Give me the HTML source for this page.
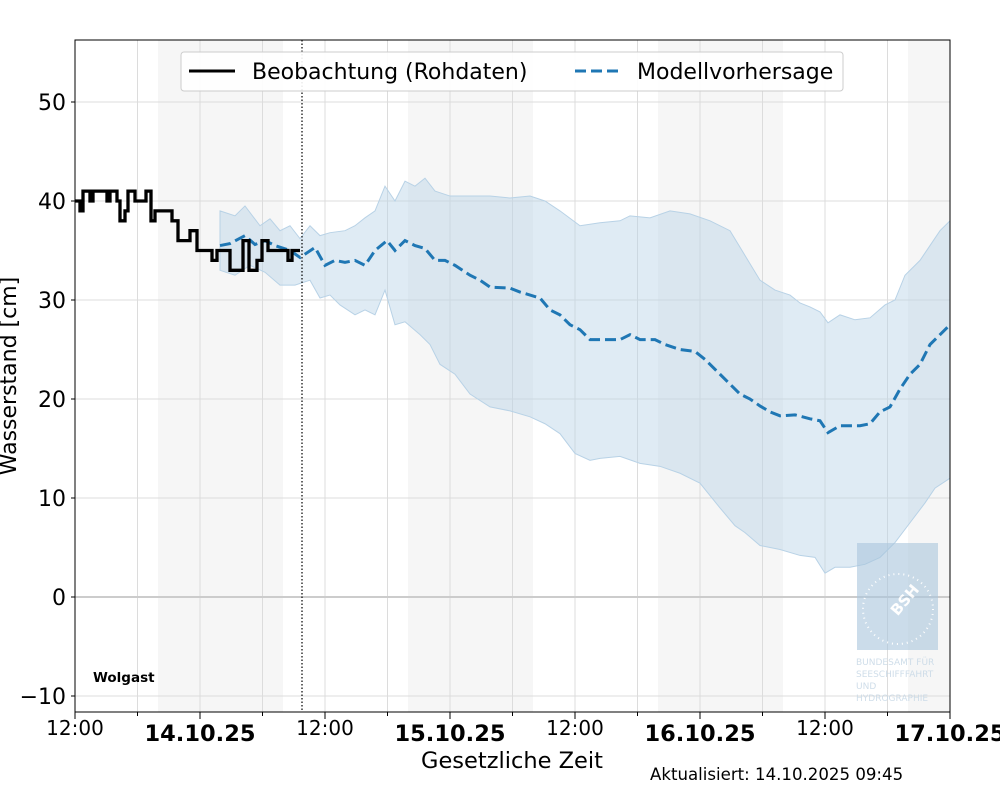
<!DOCTYPE html>
<html><head><meta charset="utf-8"><style>body{margin:0;background:#fff}svg{display:block;font-family:"DejaVu Sans","Liberation Sans",sans-serif}</style></head>
<body>
<svg id="s" width="1000" height="800" xmlns="http://www.w3.org/2000/svg">
<rect width="1000" height="800" fill="#fff"/>
<g fill="#f6f6f6"><rect x="158" y="40" width="125" height="672"/><rect x="408" y="40" width="125" height="672"/><rect x="658" y="40" width="125" height="672"/><rect x="908" y="40" width="42" height="672"/></g>
<g id="grid" stroke="#dcdcdc" stroke-width="1"></g>
<line x1="75" x2="950" y1="597" y2="597" stroke="#ccc" stroke-width="2"/>
<path id="band" fill="#b8d2e6" fill-opacity="0.45" stroke="#b8d2e6" stroke-width="1"/>
<g opacity="0.85"><rect x="857" y="543" width="81" height="107" fill="#a9c6dd" opacity="0.7"/>
<circle cx="898" cy="609" r="35" fill="none" stroke="#fff" stroke-width="2" stroke-dasharray="1 4"/>
<text x="905" y="605" fill="#fff" font-size="15" font-weight="bold" transform="rotate(-50 905 600)" text-anchor="middle">BSH</text>
<g fill="#c7d8e6" font-size="9"><text x="856" y="665">BUNDESAMT FÜR</text><text x="856" y="677">SEESCHIFFFAHRT</text><text x="856" y="689">UND</text><text x="856" y="701">HYDROGRAPHIE</text></g></g>
<path id="fc" fill="none" stroke="#1f77b4" stroke-width="3" stroke-dasharray="11 5"/>
<path id="obs" fill="none" stroke="#000" stroke-width="3.3"/>
<line x1="302" x2="302" y1="40" y2="712" stroke="#000" stroke-width="1.2" stroke-dasharray="1.5 2"/>
<rect x="75" y="40" width="875" height="672" fill="none" stroke="#000" stroke-width="1"/>
<g id="ticks" stroke="#000"></g>
<g font-size="22" fill="#000" text-anchor="end">
<text x="66" y="110">50</text><text x="66" y="209">40</text><text x="66" y="308">30</text><text x="66" y="407">20</text><text x="66" y="506">10</text><text x="66" y="605">0</text><text x="66" y="704">−10</text></g>
<g font-size="20" text-anchor="middle"><text x="75" y="735">12:00</text><text x="325" y="735">12:00</text><text x="575" y="735">12:00</text><text x="825" y="735">12:00</text></g>
<g font-size="22.5" font-weight="bold" text-anchor="middle"><text x="200" y="741">14.10.25</text><text x="450" y="741">15.10.25</text><text x="700" y="741">16.10.25</text><text x="950" y="741">17.10.25</text></g>
<text x="512" y="768" font-size="22.5" text-anchor="middle">Gesetzliche Zeit</text>
<text x="16" y="376" font-size="22" text-anchor="middle" transform="rotate(-90 16 376)">Wasserstand [cm]</text>
<text x="650" y="780" font-size="16.6">Aktualisiert: 14.10.2025 09:45</text>
<text x="93" y="682" font-size="13.5" font-weight="bold">Wolgast</text>
<rect x="181" y="52" width="662" height="39" rx="3" fill="#fff" fill-opacity="0.9" stroke="#ccc"/>
<line x1="189" x2="235" y1="71" y2="71" stroke="#000" stroke-width="3"/>
<text x="252" y="79" font-size="22">Beobachtung (Rohdaten)</text>
<line x1="575" x2="621" y1="71" y2="71" stroke="#1f77b4" stroke-width="3" stroke-dasharray="11 5"/>
<text x="637" y="79" font-size="22">Modellvorhersage</text>
</svg>
<script>
const Y=v=>597-9.9*v;
let g='';for(let x=75+62.5;x<950;x+=62.5)g+=`<line x1="${x}" x2="${x}" y1="40" y2="712"/>`;
for(let v=-10;v<=50;v+=10)if(v)g+=`<line x1="75" x2="950" y1="${Y(v)}" y2="${Y(v)}"/>`;
document.getElementById('grid').innerHTML=g;
let t='';for(let x=75;x<=950;x+=62.5)t+=`<line x1="${x}" x2="${x}" y1="712" y2="${(x-75)%125?716:719}"/>`;
for(let v=-10;v<=50;v+=10)t+=`<line x1="71" x2="75" y1="${Y(v)}" y2="${Y(v)}"/>`;
document.getElementById('ticks').innerHTML=t;
const up=[[220,39],[235,38.5],[245,39.5],[260,37.5],[270,38.2],[280,37],[290,37.5],[300,36.2],[310,37.5],[320,36.5],[330,36.8],[345,37],[355,37.5],[365,38.3],[375,39],[385,41.5],[395,40],[405,42],[415,41.5],[425,42.3],[435,41],[450,40.5],[470,40.5],[490,40.5],[510,40.3],[530,40.5],[545,40],[560,39],[580,37.5],[600,37.8],[620,38],[630,38.5],[650,38.3],[670,39],[690,38.7],[710,38],[730,37],[745,34.5],[760,32],[775,31],[790,30.5],[800,29.7],[810,29.3],[820,28.8],[828,27.7],[840,28.5],[855,28],[870,28.2],[885,29.5],[895,30],[905,32.5],[920,34],[930,35.5],[940,37],[950,38]];
const lo=[[220,33],[235,32.5],[250,33.5],[265,32.8],[280,31.5],[295,31.5],[310,32],[320,30.2],[330,30.5],[340,29.5],[355,28.5],[365,29],[375,28.5],[385,31],[395,27.5],[405,27.8],[420,26.5],[430,25.5],[440,23.5],[455,22.5],[470,20.5],[490,19.2],[510,18.8],[530,18.2],[545,17.5],[560,16.5],[575,14.5],[590,13.8],[600,14],[620,14.2],[640,13.5],[660,13.2],[680,12.5],[700,11.5],[720,9],[735,7.2],[745,6.5],[760,5.2],[780,4.8],[800,4.2],[815,4],[825,2.4],[835,3],[850,3],[865,3.3],[880,4],[895,5.5],[910,7.5],[925,9.5],[935,11],[950,12]];
document.getElementById('band').setAttribute('d','M'+up.map(p=>p[0]+' '+Y(p[1])).join('L')+'L'+lo.slice().reverse().map(p=>p[0]+' '+Y(p[1])).join('L')+'Z');
const fc=[[220,35.5],[230,35.7],[245,36.5],[255,35.6],[265,36],[275,35.5],[290,35],[300,34.3],[315,35.3],[325,33.5],[335,34],[345,33.8],[355,34],[365,33.5],[375,35],[387,36],[395,35],[405,36],[415,35.5],[425,35.2],[435,34],[445,34],[455,33.5],[470,32.5],[480,32],[490,31.3],[510,31.2],[520,30.8],[540,30.2],[550,29],[560,28.5],[570,27.5],[580,27],[590,26],[600,26],[620,26],[630,26.5],[640,26],[655,26],[665,25.5],[680,25],[695,24.8],[705,24],[720,22.5],[730,21.5],[740,20.5],[750,20],[760,19.3],[770,18.7],[780,18.3],[795,18.4],[810,18],[820,17.8],[828,16.6],[840,17.3],[860,17.3],[870,17.5],[880,18.7],[890,19.2],[900,21],[910,22.5],[920,23.5],[930,25.5],[940,26.5],[950,27.5]];
document.getElementById('fc').setAttribute('d','M'+fc.map(p=>p[0]+' '+Y(p[1])).join('L'));
const ob=[[75,40],[80,39],[83,41],[90,40],[93,41],[107,40],[110,41],[117,40],[120,38],[125,39],[128,41],[135,40],[146,41],[151,38],[155,39],[172,38],[178,36],[190,37],[197,35],[212,34],[217,35],[230,33],[243,36],[249,33],[257,34],[262,36],[268,35],[288,34],[292,35],[300,35]];
let d='M75 '+Y(40);for(let i=0;i<ob.length;i++){const n=ob[i+1]?ob[i+1][0]:300;d+=`L${ob[i][0]} ${Y(ob[i][1])}L${n} ${Y(ob[i][1])}`;}
document.getElementById('obs').setAttribute('d',d);
</script>
</body></html>
